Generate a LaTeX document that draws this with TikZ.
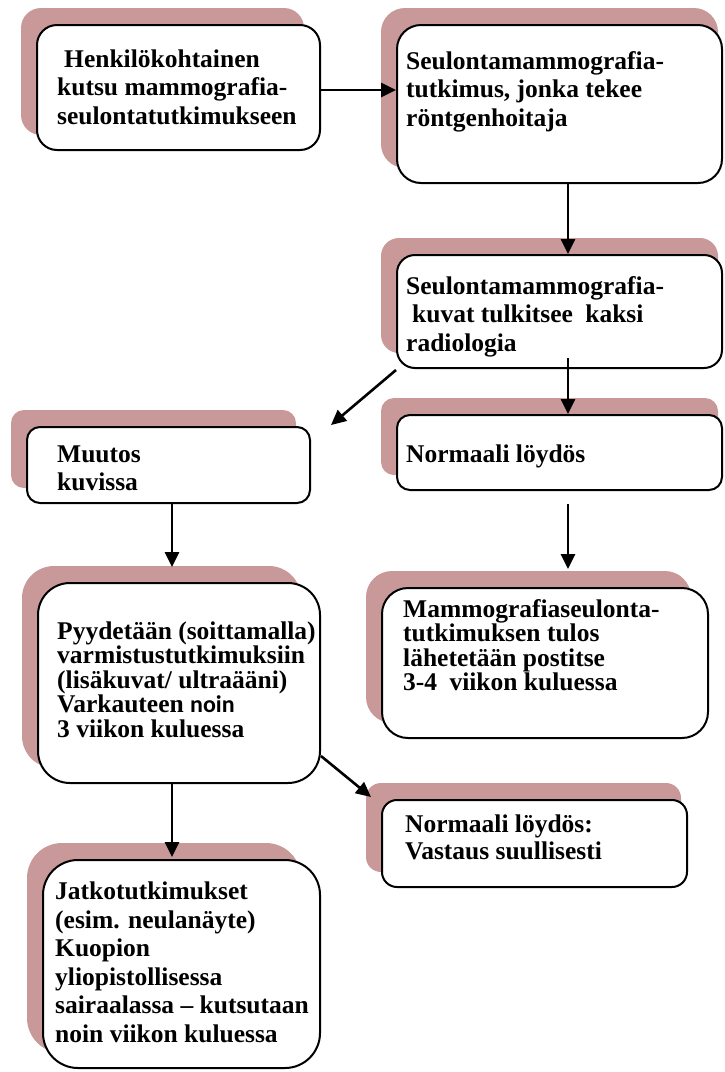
\documentclass[tikz,border=0pt]{standalone}
\usepackage{fontspec}
\setmainfont{Liberation Serif}
\newfontfamily\calib{Carlito}
\usetikzlibrary{calc,arrows.meta,backgrounds}
\definecolor{shadowcol}{RGB}{201,152,153}
\tikzset{
  box/.style={draw=black, line width=2pt, fill=white, inner sep=0pt},
  txt/.style={anchor=base west, inner sep=0pt, align=left},
  arr/.style={line width=2.6pt, -{Triangle[length=15pt,width=14pt]}},
}
\newcommand\fsz[1]{\bfseries\fontsize{25.5}{#1}\selectfont}
% name, cx, cy, w, h, radius
\newcommand\mkbox[6]{\node[box, rounded corners=#6pt, minimum width=#4pt, minimum height=#5pt] (#1) at (#2,#3) {};}
% name, radius, right offset
\newcommand\mkshadow[3]{\fill[shadowcol, rounded corners=#2pt] ($(#1.north west)+(-15,-16)$) rectangle ($(#1.south east)+(#3,-16)$);}
\begin{document}
\begin{tikzpicture}[x=1pt,y=-1pt]
\useasboundingbox (0,0) rectangle (724,1072);
% boxes
\mkbox{b1}{178.5}{87.5}{283}{125}{20}
\mkbox{b2}{559.5}{104}{325}{158}{24}
\mkbox{b3}{559.5}{311.5}{325}{113}{18}
\mkbox{b4}{559.5}{452.5}{325}{75}{13}
\mkbox{b6}{168.5}{465}{283}{76}{13}
\mkbox{b7}{179}{683}{282}{200}{32}
\mkbox{b5}{545}{663}{326}{150}{26}
\mkbox{b8}{534.5}{843.5}{305}{87}{15}
\mkbox{b9}{181.5}{964}{277}{208}{35}
\begin{scope}[on background layer]
\mkshadow{b1}{20}{-17}
\mkshadow{b2}{24}{-5}
\mkshadow{b3}{18}{-5}
\mkshadow{b4}{13}{-5}
\mkshadow{b6}{13}{-15}
\mkshadow{b7}{32}{-20}
\mkshadow{b5}{26}{-18}
\mkshadow{b8}{15}{-7}
\mkshadow{b9}{35}{-20}
\end{scope}
% texts (anchored at the baseline of the last line)
\node[txt, font=\fsz{28.5}] (t1) at (57,124) {\hspace{7pt}Henkilökohtainen\\kutsu mammografia-\\seulontatutkimukseen};
\node[txt, font=\fsz{28.5}] (t2) at (406,126) {Seulontamammografia-\\tutkimus, jonka tekee\\röntgenhoitaja};
\node[txt, font=\fsz{28.5}] (t3) at (406,351) {Seulontamammografia-\\\hspace{6pt}kuvat tulkitsee\hspace{6pt} kaksi\\radiologia};
\node[txt, font=\fsz{28}] (t4) at (406,462) {Normaali löydös};
\node[txt, font=\fsz{28}] (t6) at (57,490) {Muutos\\kuvissa};
\node[txt, font=\fsz{24.5}] (t7) at (57,737) {Pyydetään (soittamalla)\\varmistustutkimuksiin\\(lisäkuvat/ ultraääni)\\Varkauteen {\calib\fontsize{24}{24.5}\selectfont noin}\\3 viikon kuluessa};
\node[txt, font=\fsz{24.5}] (t5) at (403,690.5) {Mammografiaseulonta-\\tutkimuksen tulos\\lähetetään postitse\\3-4\hspace{6pt} viikon kuluessa};
\node[txt, font=\fsz{27}] (t8) at (405,859) {Normaali löydös:\\Vastaus suullisesti};
\node[txt, font=\fsz{28.5}] (t9) at (55,1042) {Jatkotutkimukset\\(esim. neulanäyte)\\Kuopion\\yliopistollisessa\\sairaalassa – kutsutaan\\noin viikon kuluessa};
% connectors
\draw[arr] (b1.east |- 0,90) -- (b2.west |- 0,90);
\draw[arr] ($(b2.south)+(8.5,0)$) -- ($(b3.north)+(8.5,0)$);
\draw[arr] ($(b3.south)+(8.5,-11)$) -- ($(b4.north)+(8.5,0)$);
\draw[arr] ($(b4.south)+(8.5,13)$) -- ($(b5.north)+(23,-18)$);
\draw[arr] ($(b3.south west)+(0,1)$) -- ($(b6.north east)+(20,-1)$);
\draw[arr] ($(b6.south)+(3.5,0)$) -- ($(b7.north)+(-7,-15)$);
\draw[arr] ($(b7.south east)+(0,-28)$) -- ($(b8.north west)+(-10,-2)$);
\draw[arr] ($(b7.south)+(-7,0)$) -- ($(b9.north)+(-9.5,-2)$);
\end{tikzpicture}
\end{document}
